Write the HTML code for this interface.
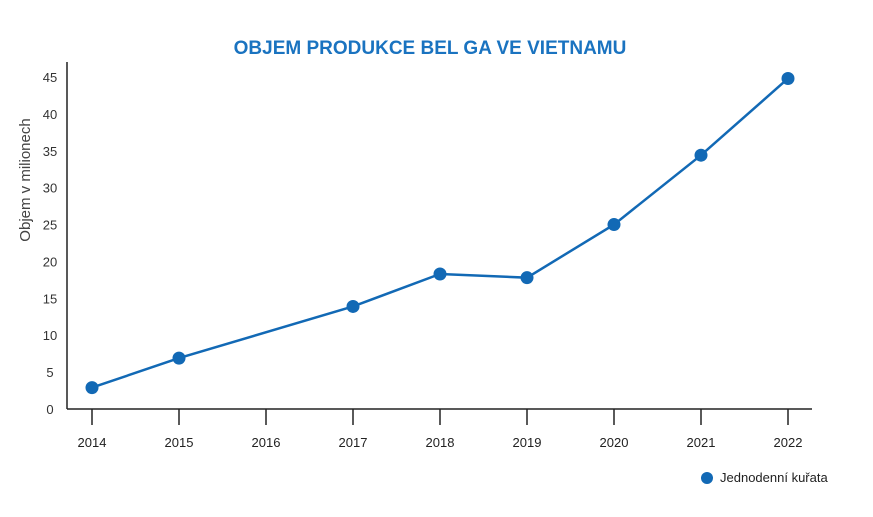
<!DOCTYPE html>
<html><head><meta charset="utf-8"><style>
body{margin:0;background:#fff;width:873px;height:512px;overflow:hidden;font-family:"Liberation Sans",sans-serif}
</style></head><body>
<svg id="c" width="873" height="512">
<text x="430" y="54" text-anchor="middle" font-size="19" font-weight="bold" fill="#1a73c0">OBJEM PRODUKCE BEL GA VE VIETNAMU</text>
<text transform="translate(30,180) rotate(-90)" text-anchor="middle" font-size="15" fill="#444">Objem v milionech</text>
<g id="axes"></g><g id="series"></g>
<circle cx="707" cy="478" r="6" fill="#1269b5"/>
<text x="720" y="482" font-size="13" fill="#222">Jednodenní kuřata</text>
</svg>
<script>
const years=["2014","2015","2016","2017","2018","2019","2020","2021","2022"];
const values=[2.9,6.9,null,13.9,18.3,17.8,25.0,34.4,44.8];
const yTicks=[0,5,10,15,20,25,30,35,40,45];
const NS="http://www.w3.org/2000/svg";
const X0=92,DX=87,Y0=409,YS=(409-77)/45;
const x=i=>X0+i*DX, y=v=>Y0-v*YS;
const ax=document.getElementById('axes'),se=document.getElementById('series');
function mk(p,t,a){const e=document.createElementNS(NS,t);for(const k in a)e.setAttribute(k,a[k]);p.appendChild(e);return e;}
let l=mk(ax,'line',{x1:67,y1:Y0,x2:812,y2:Y0,stroke:'#222','stroke-width':1.5});


l=mk(ax,'line',{x1:67,y1:62,x2:67,y2:Y0,stroke:'#222','stroke-width':1.5});


yTicks.forEach(t=>{const e=mk(ax,'text',{x:50,y:y(t)+5,'text-anchor':'middle','font-size':13,fill:'#333'});e.textContent=t;

});
years.forEach((yr,i)=>{const t=mk(ax,'line',{x1:x(i),y1:Y0,x2:x(i),y2:425,stroke:'#222','stroke-width':1.5});


const e=mk(ax,'text',{x:x(i),y:447,'text-anchor':'middle','font-size':13,fill:'#222'});e.textContent=yr;

});
const pts=[];values.forEach((v,i)=>{if(v!=null)pts.push([x(i),y(v)]);});
const pl=mk(se,'polyline',{points:pts.map(p=>p.join(',')).join(' '),fill:'none',stroke:'#1269b5','stroke-width':2.5});


values.forEach((v,i)=>{if(v==null)return;const c=mk(se,'circle',{cx:x(i),cy:y(v),r:6.5,fill:'#1269b5'});

});
</script>
</body></html>
